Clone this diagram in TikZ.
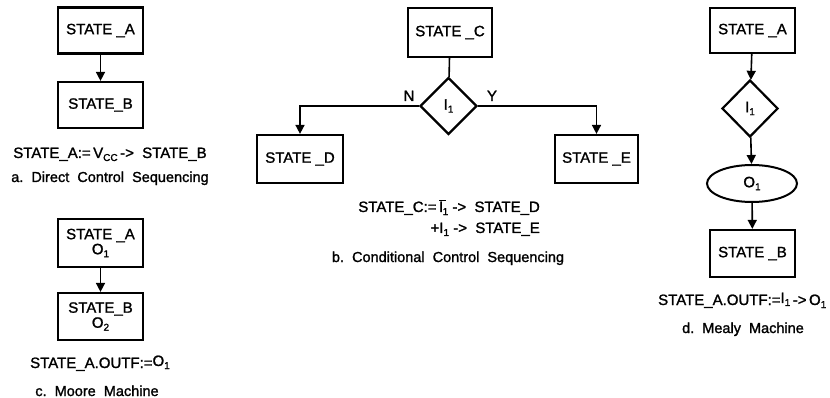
\documentclass[tikz,border=0pt]{standalone}
\usepackage{fontspec}
\setmainfont{Liberation Sans}[FakeBold=1.4]
\usetikzlibrary{arrows.meta,shapes.geometric}
\newcommand{\sbs}[1]{\raisebox{-3pt}{\fontsize{10}{12}\selectfont #1}}
\begin{document}
\begin{tikzpicture}[x=1pt,y=-1pt,
  font=\fontsize{15}{17}\selectfont,
  sbox/.style={draw,line width=2.2pt,minimum width=85pt,minimum height=46pt,inner sep=0pt,align=center},
  dbox/.style={draw,line width=2.2pt,diamond,minimum width=57pt,minimum height=57pt,inner sep=0pt},
  ebox/.style={draw,line width=2pt,ellipse,minimum width=90pt,minimum height=37pt,inner sep=0pt},
  arr/.style={line width=1.6pt,-{Triangle[length=9pt,width=9pt]}},
  ln/.style={line width=1.6pt},
  lbl/.style={inner sep=0pt,anchor=base},
  captxt/.style={inner sep=0pt,anchor=base,font=\fontsize{14.5}{16.5}\selectfont}]
\useasboundingbox (0,0) rectangle (830,398);
% panel a
\node[sbox] (aA) at (100.5,30.5) {STATE \_A};
\node[sbox] (aB) at (100.5,105) {STATE\_B};
\draw[arr] (aA) -- (aB);
\node[lbl] (aT) at (110,158) {STATE\_A:=\,V\sbs{CC}\,->\ \ STATE\_B};
\node[captxt] (aC) at (110,182) {a.\ \ Direct\ \ Control\ \ Sequencing};
% panel c
\node[sbox,minimum height=48pt] (cA) at (100.5,243) {STATE \_A\\[-2pt]O\sbs{1}};
\node[sbox,minimum height=47pt] (cB) at (100.5,316.5) {STATE\_B\\[-2pt]O\sbs{2}};
\draw[arr] (cA) -- (cB);
\node[lbl] (cT) at (100,368) {STATE\_A.OUTF:=\raisebox{2pt}{O\sbs{1}}};
\node[captxt] (cC) at (97,396) {c.\ \ Moore\ \ Machine};
% panel b
\node[sbox,minimum width=84pt,minimum height=49pt] (bC) at (450,32.5) {STATE \_C};
\node[dbox] (bI) at (448.5,106) {I\sbs{1}};
\node[sbox,minimum width=86pt,minimum height=48pt] (bD) at (300,159) {STATE \_D};
\node[sbox,minimum width=83pt,minimum height=48pt] (bE) at (596.5,159) {STATE \_E};
\draw[ln] (bC) -- (bI);
\draw[arr] (bI.west) -| (bD.north);
\draw[arr] (bI.east) -| (bE.north);
\node[lbl] (bN) at (409,101) {N};
\node[lbl] (bY) at (492,101) {Y};
\node[lbl,anchor=base east] (bT1) at (540,212) {STATE\_C:=\,$\overline{\mbox{I\,}}$\hspace{-3pt}\sbs{1}\ ->\ \ STATE\_D};
\node[lbl,anchor=base east] (bT2) at (540,233) {+I\sbs{1}\ ->\ \ STATE\_E};
\node[captxt] (bCap) at (448,262) {b.\ \ Conditional\ \ Control\ \ Sequencing};
% panel d
\node[sbox,minimum height=45pt] (dA) at (752.5,30.5) {STATE \_A};
\node[dbox,minimum width=56pt] (dI) at (750,108.5) {I\sbs{1}};
\node[ebox] (dO) at (752,183.5) {O\sbs{1}};
\node[sbox,minimum height=47pt] (dB) at (752.5,253.5) {STATE \_B};
\draw[arr] (dA) -- (dI);
\draw[arr] (dI) -- (dO);
\draw[arr] (dO) -- (dB);
\node[lbl,anchor=base west] (dT) at (658,305) {STATE\_A.OUTF:=\raisebox{2pt}{I\sbs{1}}\,->\,O\sbs{1}};
\node[captxt] (dC) at (743,333) {d.\ \ Mealy\ \ Machine};
\end{tikzpicture}
\end{document}
